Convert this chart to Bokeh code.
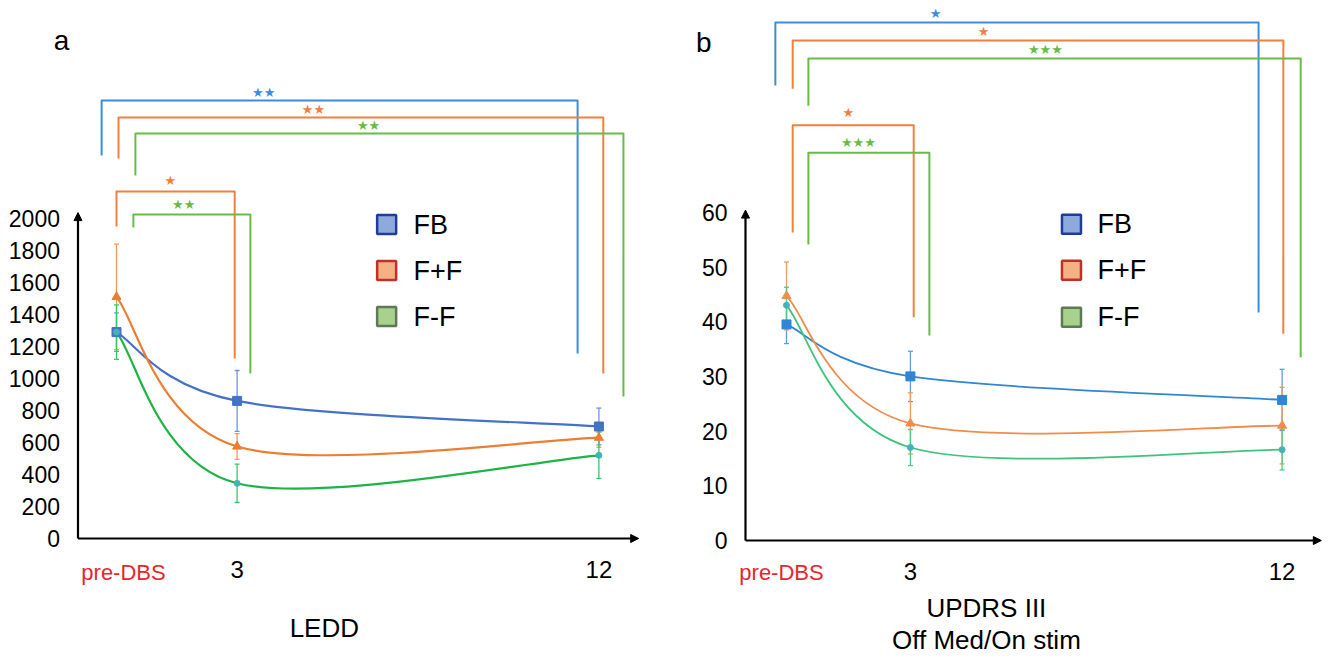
from bokeh.plotting import figure
from bokeh.models import (Range1d, FixedTicker, ColumnDataSource, Whisker, TeeHead,
                          Arrow, NormalHead, Label, LinearAxis)
from bokeh.core.properties import value
from bokeh.embed import file_html
from bokeh.resources import INLINE

# ---------------- data ----------------
months = [0, 3, 12]
tick_labels = ["pre-DBS", "3", "12"]
groups = ["FB", "F+F", "F-F"]

ledd_fb = [1290, 860, 700]
ledd_ffp = [1510, 575, 630]
ledd_ffm = [1290, 345, 520]
ledd_fb_err = [120, 190, 115]
ledd_ffp_err = [330, 80, 60]
ledd_ffm_err = [170, 120, 145]

updrs_fb = [39.5, 30.0, 25.7]
updrs_ffp = [44.7, 21.4, 21.0]
updrs_ffm = [43.0, 17.0, 16.6]
updrs_fb_err = [3.5, 4.6, 5.6]
updrs_ffp_err = [6.2, 5.6, 7.0]
updrs_ffm_err = [3.3, 3.3, 3.7]

ledd_ticks = [0, 200, 400, 600, 800, 1000, 1200, 1400, 1600, 1800, 2000]
updrs_ticks = [0, 10, 20, 30, 40, 50, 60]

# significance (group, stars) for each bracket
ledd_sig = [("FB", "★★"), ("F+F", "★★"), ("F-F", "★★"), ("F+F", "★"), ("F-F", "★★")]
updrs_sig = [("FB", "★"), ("F+F", "★"), ("F-F", "★★★"), ("F+F", "★"), ("F-F", "★★★")]

# ---------------- styles / layout ----------------
W, H = 1330, 656
FONT = "Liberation Sans"
STAR_FONT = "DejaVu Sans"
line_col_a = {"FB": "#4472C4", "F+F": "#ED7D31", "F-F": "#1DB446"}
line_col_b = {"FB": "#2F86D6", "F+F": "#F28C4A", "F-F": "#3CC47A"}
err_col_a = {"FB": "#6F95DA", "F+F": "#F39A5C", "F-F": "#3CC46A"}
err_col_b = {"FB": "#5A9EE0", "F+F": "#F39A5C", "F-F": "#4CCB85"}
marker_col = {"FB": None, "F+F": None, "F-F": "#45B2B8"}
markers = {"FB": "square", "F+F": "triangle", "F-F": "circle"}
msize = {"FB": 9, "F+F": 9, "F-F": 6}
brk_col = {"FB": "#3A8EDB", "F+F": "#F0803C", "F-F": "#68BC45"}
leg_fill = {"FB": "#8EAADC", "F+F": "#F4B183", "F-F": "#A9D18E"}
leg_line = {"FB": "#1F3C99", "F+F": "#C0302A", "F-F": "#5E7A55"}

# pixel placement of each panel's origin and scale
A_X0, A_PX_PER_MONTH, A_Y0, A_UNITS_PER_PX = 116, 40.2, 538, 6.25
B_X0, B_PX_PER_MONTH, B_Y0, B_UNITS_PER_PX = 786, 41.3, 540, 1 / 5.47

a_xr = (-A_X0 / A_PX_PER_MONTH, (W - A_X0) / A_PX_PER_MONTH)
a_yr = (-(H - A_Y0) * A_UNITS_PER_PX, A_Y0 * A_UNITS_PER_PX)
b_xr = (-B_X0 / B_PX_PER_MONTH, (W - B_X0) / B_PX_PER_MONTH)
b_yr = (-(H - B_Y0) * B_UNITS_PER_PX, B_Y0 * B_UNITS_PER_PX)

# bracket geometry: x_left, x_right (months), y_left_end, y_top, y_right_end, star_x, star_y
ledd_brk_geom = [
    (-0.37, 11.47, 2394, 2738, 1156, 3.66, 2785),
    (0.05, 12.11, 2375, 2631, 1031, 4.90, 2680),
    (0.47, 12.61, 2269, 2531, 888, 6.27, 2580),
    (0.00, 2.94, 1950, 2169, 1125, 1.34, 2240),
    (0.42, 3.33, 1944, 2025, 1031, 1.67, 2085),
]
updrs_brk_geom = [
    (-0.27, 11.43, 83.2, 94.7, 41.7, 3.61, 96.3),
    (0.15, 12.03, 82.6, 91.4, 37.8, 4.77, 93.0),
    (0.53, 12.45, 79.5, 88.1, 33.5, 6.27, 89.7),
    (0.15, 3.08, 56.3, 75.9, 40.8, 1.50, 78.3),
    (0.53, 3.46, 54.1, 70.9, 37.5, 1.74, 72.7),
]


def smooth_segments(xs, ys):
    """Cubic Bezier segments (Catmull-Rom style) through the data points."""
    n = len(xs)
    seg = dict(x0=[], y0=[], x1=[], y1=[], cx0=[], cy0=[], cx1=[], cy1=[])
    for i in range(n - 1):
        a = max(i - 1, 0)
        d = min(i + 2, n - 1)
        seg["x0"].append(xs[i]); seg["y0"].append(ys[i])
        seg["x1"].append(xs[i + 1]); seg["y1"].append(ys[i + 1])
        seg["cx0"].append(xs[i] + (xs[i + 1] - xs[a]) / 6.0)
        seg["cy0"].append(ys[i] + (ys[i + 1] - ys[a]) / 6.0)
        seg["cx1"].append(xs[i + 1] - (xs[d] - xs[i]) / 6.0)
        seg["cy1"].append(ys[i + 1] - (ys[d] - ys[i]) / 6.0)
    return seg


p = figure(width=W, height=H, x_range=Range1d(*a_xr), y_range=Range1d(*a_yr),
           output_backend="svg", toolbar_location=None, min_border=0,
           x_axis_location=None, y_axis_location=None)
p.extra_x_ranges = {"mb": Range1d(*b_xr)}
p.extra_y_ranges = {"ub": Range1d(*b_yr)}
p.grid.visible = False
p.outline_line_color = None
p.background_fill_color = "white"
p.border_fill_color = "white"


def style_axis(ax, size, standoff):
    ax.axis_line_color = None
    ax.major_tick_line_color = None
    ax.minor_tick_line_color = None
    ax.major_label_text_font = FONT
    ax.major_label_text_color = "black"
    ax.major_label_text_font_size = size
    ax.major_label_standoff = standoff


def make_panel(rn, xr_axis, ticks, series, errs, lcol, ecol, lw, sig, geom,
               leg_x, leg_ys, leg_tx, y_arrow_top, x_arrow_end,
               predbs_pos, titles, panel_letter):
    kw = {} if rn is None else dict(x_range_name=rn[0], y_range_name=rn[1])

    yax = LinearAxis(ticker=FixedTicker(ticks=ticks), fixed_location=xr_axis, **kw)
    style_axis(yax, "23px", 12)
    p.add_layout(yax, "left")
    xax = LinearAxis(ticker=FixedTicker(ticks=months), fixed_location=0,
                     major_label_overrides={m: ("" if i == 0 else tick_labels[i])
                                            for i, m in enumerate(months)}, **kw)
    style_axis(xax, "24px", 16)
    p.add_layout(xax, "below")

    # axis arrows
    p.add_layout(Arrow(end=NormalHead(size=8, fill_color="black", line_color="black"),
                       x_start=xr_axis, y_start=0, x_end=xr_axis, y_end=y_arrow_top,
                       line_color="black", line_width=2.2, **kw))
    p.add_layout(Arrow(end=NormalHead(size=8, fill_color="black", line_color="black"),
                       x_start=xr_axis, y_start=0, x_end=x_arrow_end, y_end=0,
                       line_color="black", line_width=2.2, **kw))

    # significance brackets
    for (g, stars), (xl, xrr, yl, yt, yrr, sx, sy) in zip(sig, geom):
        p.line([xl, xl, xrr, xrr], [yl, yt, yt, yrr], line_color=brk_col[g],
               line_width=2, line_join="round", **kw)
        p.text(x=[sx], y=[sy], text=[stars], text_color=brk_col[g],
               text_font=value(STAR_FONT), text_font_size="13px",
               text_align="center", text_baseline="middle", **kw)

    # error bars, curves, markers
    for g, ys, er in zip(groups, series, errs):
        src = ColumnDataSource(dict(x=months, upper=[v + e for v, e in zip(ys, er)],
                                    lower=[v - e for v, e in zip(ys, er)]))
        p.add_layout(Whisker(source=src, base="x", upper="upper", lower="lower",
                             dimension="height", line_color=ecol[g], line_width=1.3,
                             upper_head=TeeHead(size=5, line_color=ecol[g], line_width=1.3),
                             lower_head=TeeHead(size=5, line_color=ecol[g], line_width=1.3),
                             **kw))
    for g, ys in zip(groups, series):
        seg = smooth_segments(months, ys)
        p.bezier(x0="x0", y0="y0", x1="x1", y1="y1", cx0="cx0", cy0="cy0",
                 cx1="cx1", cy1="cy1", source=ColumnDataSource(seg),
                 line_color=lcol[g], line_width=lw, **kw)
    for g, ys in zip(groups, series):
        mc = marker_col[g] or lcol[g]
        p.scatter(months, ys, marker=markers[g], size=msize[g],
                  fill_color=mc, line_color=mc, **kw)

    # legend (manual)
    p.scatter([leg_x] * 3, leg_ys, marker="square", size=19,
              fill_color=[leg_fill[g] for g in groups],
              line_color=[leg_line[g] for g in groups], line_width=2.5, **kw)
    p.text(x=[leg_tx] * 3, y=leg_ys, text=groups, text_font=value(FONT),
           text_font_size="27px", text_color="black", text_align="left",
           text_baseline="middle", **kw)

    # red pre-DBS tick label, axis titles, panel letter
    p.add_layout(Label(x=predbs_pos[0], y=predbs_pos[1], text=tick_labels[0],
                       text_color="#E8262C", text_font=FONT, text_font_size="22px",
                       text_align="center", text_baseline="middle", **kw))
    for (tx, ty, tt) in titles:
        p.add_layout(Label(x=tx, y=ty, text=tt, text_color="black", text_font=FONT,
                           text_font_size="26px", text_align="center",
                           text_baseline="middle", **kw))
    p.add_layout(Label(x=panel_letter[0], y=panel_letter[1], text=panel_letter[2],
                       text_color="black", text_font=FONT, text_font_size="28px",
                       text_align="center", text_baseline="middle", **kw))


make_panel(None, -0.958, ledd_ticks,
           [ledd_fb, ledd_ffp, ledd_ffm], [ledd_fb_err, ledd_ffp_err, ledd_ffm_err],
           line_col_a, err_col_a, 2.2, ledd_sig, ledd_brk_geom,
           6.72, [1962, 1675, 1387], 7.39, 2037, 12.99,
           (0.174, -212), [(5.17, -560, "LEDD")], (-1.37, 3110, "a"))

make_panel(("mb", "ub"), -0.993, updrs_ticks,
           [updrs_fb, updrs_ffp, updrs_ffm], [updrs_fb_err, updrs_ffp_err, updrs_ffm_err],
           line_col_b, err_col_b, 1.8, updrs_sig, updrs_brk_geom,
           6.90, [57.8, 49.4, 40.8], 7.53, 60.4, 12.95,
           (-0.121, -5.85), [(4.84, -12.3, "UPDRS III"), (4.84, -18.2, "Off Med/On stim")],
           (-2.0, 91.0, "b"))

open("out.html", "w").write(file_html(p, INLINE))
